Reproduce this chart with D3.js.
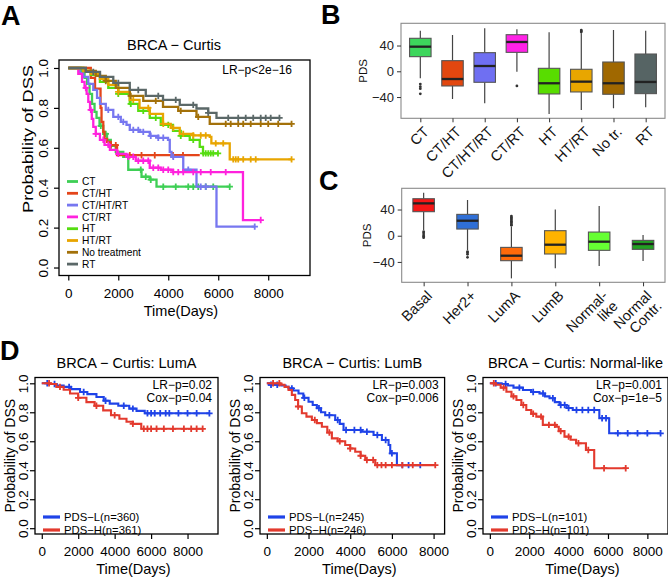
<!DOCTYPE html>
<html><head><meta charset="utf-8">
<script src="https://cdn.jsdelivr.net/npm/d3@7"></script>
<style>
body{margin:0;background:#fff}
svg{display:block}
text{font-family:"Liberation Sans",Arial,Helvetica,sans-serif}
</style>
</head><body>
<svg id="c" width="668" height="577"></svg>
<script>
// ---------------- DATA ----------------
// Panel A: Kaplan-Meier (time in days, survival probability)
const aNames = ["CT","CT/HT","CT/HT/RT","CT/RT","HT","HT/RT","No treatment","RT"];
const aCT     = [[0,1],[300,1],[500,0.98],[650,0.95],[750,0.92],[850,0.87],[950,0.82],[1050,0.78],[1130,0.75],[1250,0.71],[1400,0.67],[1550,0.64],[1700,0.61],[1900,0.58],[2200,0.555],[2400,0.49],[2930,0.455],[3260,0.44],[3530,0.405],[6460,0.405]];
const aCTHT   = [[0,1],[700,1],[900,0.95],[1070,0.897],[1290,0.80],[1330,0.73],[1400,0.68],[1450,0.645],[1550,0.63],[1700,0.613],[1950,0.563],[5260,0.563]];
const aCTHTRT = [[0,1],[300,1],[450,0.975],[600,0.955],[800,0.92],[1000,0.89],[1150,0.85],[1270,0.82],[1500,0.79],[1800,0.755],[2100,0.73],[2330,0.715],[2460,0.69],[2860,0.68],[3260,0.66],[3600,0.65],[3990,0.64],[4060,0.58],[4130,0.555],[4600,0.49],[5130,0.405],[5930,0.205],[7460,0.205]];
const aCTRT   = [[0,1],[250,1],[400,0.97],[550,0.93],[650,0.90],[735,0.87],[800,0.83],[870,0.79],[940,0.745],[1000,0.705],[1100,0.67],[1266,0.64],[1450,0.615],[1665,0.59],[1950,0.57],[2330,0.555],[2700,0.535],[3260,0.50],[3700,0.49],[4190,0.478],[6990,0.238],[7700,0.238]];
const aHT     = [[0,1],[300,1],[600,0.985],[900,0.965],[1266,0.93],[1600,0.9],[2000,0.87],[2460,0.82],[2800,0.785],[3260,0.75],[3700,0.715],[4190,0.685],[4500,0.66],[4860,0.64],[5260,0.605],[5390,0.572],[5990,0.572]];
const aHTRT   = [[0,1],[300,1],[600,0.985],[900,0.97],[1266,0.945],[1600,0.915],[2000,0.88],[2460,0.84],[2850,0.80],[3260,0.77],[3790,0.72],[4100,0.70],[4460,0.67],[5000,0.662],[5660,0.655],[5725,0.622],[6460,0.542],[8934,0.542]];
const aNoTr   = [[0,1],[350,1],[700,0.985],[1100,0.96],[1500,0.935],[1900,0.9],[2460,0.86],[3000,0.835],[3790,0.805],[4400,0.785],[5130,0.755],[5660,0.72],[8934,0.72]];
const aRT     = [[0,1],[350,1],[700,0.98],[1270,0.955],[1800,0.925],[2460,0.89],[3100,0.86],[3790,0.84],[4460,0.815],[5130,0.797],[5600,0.775],[5930,0.75],[8450,0.75]];
// censoring times
const cCT     = [1300,1500,1700,2900,3100,3300,3800,4300,4800,5000,5200,5500,5800,6460];
const cCTHT   = [1700,1900,2460,2930,3460,4190,4590];
const cCTHTRT = [1600,2000,2200,2600,2800,3000,3300,3600,3800,4200,4800,5300,5500,7460];
const cCTRT   = [700,900,1100,1400,1600,2000,2400,2600,2800,3000,3200,3400,3600,3800,4000,4200,4400,4600,5000,5300,5700,6300,7700];
const cHT     = [2000,2500,3000,3500,4000,4500,5000,5400,5500,5600,5700,5800,5990];
const cHTRT   = [2000,2600,3200,3800,4200,4600,5000,5300,5500,5900,6200,6600,6700,6800,7000,7300,7500,8934];
const cNoTr   = [1500,2500,3500,4500,5200,6300,6500,6800,7000,7300,7700,8000,8400,8934];
const cRT     = [1000,2000,2800,3600,4300,5000,5600,6400,6800,7100,7400,7700,7900,8100,8450];

// Panel B: PDS by treatment (box stats)
const bCats = ["CT","CT/HT","CT/HT/RT","CT/RT","HT","HT/RT","No tr.","RT"];
const bLow  = [-10.9,-43,-49.7,-0.6,-66.3,-60,-57.4,-55.9];
const bQ1   = [22.7,-22.8,-17.1,29.4,-35.2,-32.1,-35.7,-34.7];
const bMed  = [38.2,-12,8.2,45.5,-18.6,-16.1,-18.6,-16.6];
const bQ3   = [51.2,16.5,28.9,56.8,4.6,3.1,14.4,26.8];
const bHigh = [63,56.3,66.7,65.1,60.5,59,64.1,63];
const bOut  = [[-19.8,-23.9,-27,-35],[],[],[-22.8],[],[61,62.5,64],[],[]];
const bTicks = [-40,0,40];

// Panel C: PDS by subtype
const cCats = ["Basal","Her2+","LumA","LumB","Normal-like","Normal Contr."];
const cLabels = [["Basal"],["Her2+"],["LumA"],["LumB"],["Normal-","like"],["Normal","Contr."]];
const cLow  = [8.7,-21.8,-65.1,-49.8,-46.3,-38.6];
const cQ1   = [36.7,10.2,-38.1,-27.9,-22.3,-20.8];
const cMed  = [49.4,22.9,-30.5,-13.7,-9.1,-12.7];
const cQ3   = [56.5,32.6,-17.8,7.7,5.6,-7.1];
const cHigh = [65.7,54.5,13.8,40.2,45.3,1.1];
const cOut  = [[6.2,4,1.1,-1,-3],[-24.4,-26,-28.4,-33],[16,18,20,22,24,26,28,30],[],[],[]];

// Panel D: KM by PDS group within subtypes
const dTitles = ["BRCA \u2212 Curtis: LumA","BRCA \u2212 Curtis: LumB","BRCA \u2212 Curtis: Normal-like"];
const dLR  = ["LR\u2212p=0.02","LR\u2212p=0.003","LR\u2212p=0.001"];
const dCox = ["Cox\u2212p=0.04","Cox\u2212p=0.006","Cox\u2212p=1e\u22125"];
const dNL = [360,245,101];
const dNH = [361,246,101];
const dTmax = [9300,8200,8700];
const d1L = [[0,1],[400,0.995],[800,0.985],[1200,0.975],[1600,0.96],[2100,0.94],[2500,0.925],[3000,0.905],[3400,0.88],[3730,0.86],[4200,0.845],[4800,0.825],[5200,0.81],[5650,0.793],[9200,0.793]];
const d1H = [[0,1],[500,0.995],[800,0.975],[1200,0.955],[1550,0.93],[2000,0.90],[2450,0.87],[2900,0.845],[3370,0.813],[3800,0.78],[4260,0.755],[4650,0.735],[5000,0.72],[5460,0.686],[8830,0.686]];
const d2L = [[0,1],[100,0.99],[700,0.985],[900,0.975],[1040,0.965],[1250,0.95],[1520,0.93],[1750,0.9],[2000,0.873],[2200,0.85],[2400,0.828],[2600,0.80],[2800,0.78],[3280,0.747],[3500,0.72],[3680,0.678],[4560,0.666],[5120,0.643],[5520,0.609],[5840,0.574],[5920,0.517],[6240,0.435],[7360,0.435]];
const d2H = [[0,1],[650,0.99],[850,0.975],[1040,0.954],[1200,0.92],[1360,0.885],[1500,0.84],[1680,0.793],[1900,0.77],[2160,0.747],[2400,0.725],[2640,0.70],[2900,0.66],[3120,0.62],[3400,0.60],[3760,0.574],[4000,0.55],[4240,0.528],[4500,0.50],[4720,0.471],[5200,0.435],[8080,0.435]];
const d3L = [[0,1],[600,0.995],[900,0.985],[1200,0.97],[1680,0.954],[2100,0.94],[2520,0.93],[2800,0.91],[3030,0.897],[3300,0.87],[3540,0.85],[3900,0.83],[4210,0.816],[5560,0.759],[6060,0.655],[8670,0.655]];
const d3H = [[0,1],[300,0.99],[550,0.97],[840,0.942],[1100,0.91],[1350,0.885],[1600,0.85],[1850,0.816],[2100,0.79],[2360,0.77],[2690,0.713],[3370,0.70],[3500,0.67],[3790,0.632],[4100,0.61],[4380,0.586],[4880,0.54],[5300,0.414],[6900,0.414]];
const d1Lc = [300,700,1500,2300,3500,4500,5000,5800,6000,6200,6500,6800,7000,7500,8000,8500,9200];
const d1Hc = [400,1000,2000,3000,4000,5000,5600,5800,6000,6300,6700,7200,7800,8200,8500,8830];
const d2Lc = [200,500,1200,1800,2500,3000,3400,3800,4200,4500,4800,5300,5700,6000,6500,6800,7360];
const d2Hc = [300,600,1500,2300,3000,3500,4000,4500,4800,5100,5300,5500,5700,6000,6500,7000,8080];
const d3Lc = [300,800,1500,2200,2700,3200,3600,3800,4000,4400,4700,5000,5300,5700,5900,6500,7000,7500,8000,8670];
const d3Hc = [200,700,1200,1700,2200,2600,3000,3300,3600,4000,4500,5000,5800,6900];
const timeTicks = [0,2000,4000,6000,8000];
const probTicks = [0,0.2,0.4,0.6,0.8,1.0];

// ---------------- STYLE ----------------
const aColors = ["#3ecf55","#e4451a","#7777f0","#ff22dd","#55dd11","#e8a500","#a3710a","#5b6868"];
const bColors = ["#3dd65c","#e2470f","#6f6ff2","#ff22e6","#58dd00","#e8a600","#a06800","#566464"];
const cColors = ["#f51616","#2f6fd6","#ff6a0a","#ffb300","#66ff33","#22a022"];
const dBlue = "#1f43e8", dRed = "#e33a2e";

const svg = d3.select("#c");

function survAt(steps, t){ let v = 1; for (const p of steps){ if (p[0] <= t) v = p[1]; else break; } return v; }

function drawKM(cfg){
  const g = svg.append("g");
  const x = d3.scaleLinear().domain([-0.04*cfg.tmax, 1.04*cfg.tmax]).range([cfg.left, cfg.right]);
  const y = d3.scaleLinear().domain([-0.04, 1.04]).range([cfg.bottom, cfg.top]);
  const line = d3.line().x(d=>x(d[0])).y(d=>y(d[1])).curve(d3.curveStepAfter);
  cfg.series.forEach(s=>{
    g.append("path").datum(s.steps).attr("fill","none").attr("stroke",s.color)
      .attr("stroke-width",cfg.lw).attr("d",line);
    g.append("g").selectAll("path").data(s.cens).join("path")
      .attr("d",d=>{const px=x(d), py=y(survAt(s.steps,d)); return `M${px-3.2},${py}h6.4M${px},${py-3.2}v6.4`;})
      .attr("stroke",s.color).attr("stroke-width",1.8).attr("fill","none");
  });
  g.append("rect").attr("x",cfg.left).attr("y",cfg.top).attr("width",cfg.right-cfg.left)
    .attr("height",cfg.bottom-cfg.top).attr("fill","none").attr("stroke","#000").attr("stroke-width",1.3);
  const xa = g.append("g").attr("transform",`translate(0,${cfg.bottom})`)
    .call(d3.axisBottom(x).tickValues(timeTicks).tickSize(5).tickPadding(7.5).tickFormat(d3.format("d")));
  xa.select(".domain").remove();
  xa.selectAll("line").attr("stroke","#000").attr("stroke-width",1.2);
  xa.selectAll("text").attr("font-size",13.5).attr("fill","#000").style("font-family",null);
  const ya = g.append("g").attr("transform",`translate(${cfg.left},0)`)
    .call(d3.axisLeft(y).tickValues(probTicks).tickSize(5).tickFormat(d3.format(".1f")));
  ya.select(".domain").remove();
  ya.selectAll("line").attr("stroke","#000").attr("stroke-width",1.2);
  ya.selectAll("text").attr("font-size",13.5).attr("fill","#000")
    .attr("transform","rotate(-90)").attr("x",0).attr("y",cfg.ylabOff).attr("dy",0)
    .attr("text-anchor","middle");
  // labels
  g.append("text").attr("x",cfg.titleX).attr("y",cfg.top-10).attr("text-anchor","middle")
    .attr("font-size",14.5).text(cfg.title);
  g.append("text").attr("x",cfg.xlabX).attr("y",cfg.bottom+40).attr("text-anchor","middle")
    .attr("font-size",14.5).text("Time(Days)");
  const yl = g.append("text").attr("transform",`translate(${cfg.left-cfg.ylabDist},${cfg.ylabY}) rotate(-90)`)
    .attr("text-anchor","middle").attr("dy","0.35em").attr("font-size",14).text("Probability of DSS");
  if (cfg.ylabLen) yl.attr("textLength",cfg.ylabLen).attr("lengthAdjust","spacingAndGlyphs");
  return {g,x,y};
}

// ---------- Panel A ----------
const aSteps = [aCT,aCTHT,aCTHTRT,aCTRT,aHT,aHTRT,aNoTr,aRT];
const aCens = [cCT,cCTHT,cCTHTRT,cCTRT,cHT,cHTRT,cNoTr,cRT];
const A = drawKM({left:59,right:310,top:60,bottom:275.5,tmax:9300,lw:2.3,
  series:aNames.map((n,i)=>({steps:aSteps[i],cens:aCens[i],color:aColors[i]})),
  title:"BRCA \u2212 Curtis",titleX:174,xlabX:181,ylabOff:-11,ylabDist:31,ylabY:139,ylabLen:148});
A.g.append("text").attr("x",292).attr("y",74).attr("text-anchor","end").attr("font-size",12).text("LR\u2212p<2e\u221216");
const aLeg = A.g.append("g");
aNames.forEach((n,i)=>{
  const yy = 181.5 + i*11.8;
  aLeg.append("line").attr("x1",67).attr("x2",78).attr("y1",yy).attr("y2",yy).attr("stroke",aColors[i]).attr("stroke-width",2.8);
  aLeg.append("text").attr("x",82).attr("y",yy).attr("dy","0.36em").attr("font-size",10.2)
    .attr("textLength",n.length>4?null:null).text(n);
});

// ---------- Panels B & C ----------
function drawBox(cfg){
  const g = svg.append("g");
  const x = d3.scalePoint().domain(cfg.cats).range([cfg.left,cfg.right]).padding(cfg.pad);
  const y = d3.scaleLinear().domain(cfg.ydom).range([cfg.bottom,cfg.top]);
  const bw = 21.5;
  g.append("rect").attr("x",cfg.left).attr("y",cfg.top).attr("width",cfg.right-cfg.left)
    .attr("height",cfg.bottom-cfg.top).attr("fill","none").attr("stroke","#8a8a8a").attr("stroke-width",1.1);
  const ya = g.append("g").attr("transform",`translate(${cfg.left},0)`)
    .call(d3.axisLeft(y).tickValues(bTicks).tickSize(4).tickPadding(3).tickFormat(d=>d<0?"\u2212"+Math.abs(d):d));
  ya.select(".domain").remove();
  ya.selectAll("line").attr("stroke","#333");
  ya.selectAll("text").attr("font-size",13).attr("fill","#222");
  const xa = g.append("g").attr("transform",`translate(0,${cfg.bottom})`)
    .call(d3.axisBottom(x).tickSize(4).tickFormat(""));
  xa.select(".domain").remove();
  xa.selectAll("line").attr("stroke","#333");
  cfg.cats.forEach((c,i)=>{
    const cx = x(c);
    const bg = g.append("g");
    bg.append("line").attr("x1",cx).attr("x2",cx).attr("y1",y(cfg.q3[i])).attr("y2",y(cfg.hi[i])).attr("stroke","#444").attr("stroke-width",1.2);
    bg.append("line").attr("x1",cx).attr("x2",cx).attr("y1",y(cfg.q1[i])).attr("y2",y(cfg.lo[i])).attr("stroke","#444").attr("stroke-width",1.2);
    bg.append("rect").attr("x",cx-bw/2).attr("width",bw).attr("y",y(cfg.q3[i])).attr("height",y(cfg.q1[i])-y(cfg.q3[i]))
      .attr("fill",cfg.colors[i]).attr("stroke","#555").attr("stroke-width",1.1);
    bg.append("line").attr("x1",cx-bw/2).attr("x2",cx+bw/2).attr("y1",y(cfg.med[i])).attr("y2",y(cfg.med[i])).attr("stroke","#222").attr("stroke-width",2.3);
    bg.selectAll("circle").data(cfg.out[i]).join("circle").attr("cx",cx).attr("cy",d=>y(d)).attr("r",1.4).attr("fill","#333");
    const lines = cfg.labels[i];
    const t = g.append("text").attr("transform",`translate(${cx+2},${cfg.bottom+7}) rotate(-45)`)
      .attr("text-anchor","end").attr("font-size",14.5).attr("fill","#111");
    lines.forEach((ln,j)=>t.append("tspan").attr("x",0).attr("dy",j===0?"0.72em":"1.0em").text(ln));
  });
  g.append("text").attr("transform",`translate(${cfg.ylabX},${(cfg.top+cfg.bottom)/2}) rotate(-90)`)
    .attr("text-anchor","middle").attr("dy","0.35em").attr("font-size",11.5).attr("fill","#111").text("PDS");
}
drawBox({cats:bCats,labels:bCats.map(c=>[c]),left:401,right:665,top:23.3,bottom:118.3,ydom:[-73,74.5],pad:0.6,
  lo:bLow,q1:bQ1,med:bMed,q3:bQ3,hi:bHigh,out:bOut,colors:bColors,ylabX:363});
drawBox({cats:cCats,labels:cLabels,left:401.7,right:665,top:188.3,bottom:282.3,ydom:[-71.1,72.4],pad:0.5,
  lo:cLow,q1:cQ1,med:cMed,q3:cQ3,hi:cHigh,out:cOut,colors:cColors,ylabX:366.5});

// ---------- Panel D ----------
const dL = [d1L,d2L,d3L], dH = [d1H,d2H,d3H], dLc=[d1Lc,d2Lc,d3Lc], dHc=[d1Hc,d2Hc,d3Hc];
const dLefts = [35,260,483], dRights = [218,444.6,668];
dTitles.forEach((tt,k)=>{
  const L = dLefts[k], R = dRights[k];
  const P = drawKM({left:L,right:R,top:377.5,bottom:534,tmax:dTmax[k],lw:2.1,
    series:[{steps:dL[k],cens:dLc[k],color:dBlue},{steps:dH[k],cens:dHc[k],color:dRed}],
    title:tt,titleX:(L+R)/2,xlabX:(L+R)/2+7,ylabOff:-7,ylabDist:25,ylabY:(377.5+534)/2});
  P.g.append("text").attr("x",R-6).attr("y",389).attr("text-anchor","end").attr("font-size",12).text(dLR[k]);
  P.g.append("text").attr("x",R-6).attr("y",401.5).attr("text-anchor","end").attr("font-size",12).text(dCox[k]);
  [["PDS\u2212L(n="+dNL[k]+")",dBlue],["PDS\u2212H(n="+dNH[k]+")",dRed]].forEach((it,j)=>{
    const yy = 517 + j*13;
    P.g.append("line").attr("x1",L+8).attr("x2",L+25).attr("y1",yy).attr("y2",yy).attr("stroke",it[1]).attr("stroke-width",3.2);
    P.g.append("text").attr("x",L+29).attr("y",yy).attr("dy","0.36em").attr("font-size",11.3).text(it[0]);
  });
});

// ---------- Panel letters ----------
[["A",1,25],["B",321,24],["C",319,190],["D",0,360]].forEach(l=>{
  svg.append("text").attr("x",l[1]).attr("y",l[2]).attr("font-size",27).attr("font-weight","bold").text(l[0]);
});
</script>
</body></html>
